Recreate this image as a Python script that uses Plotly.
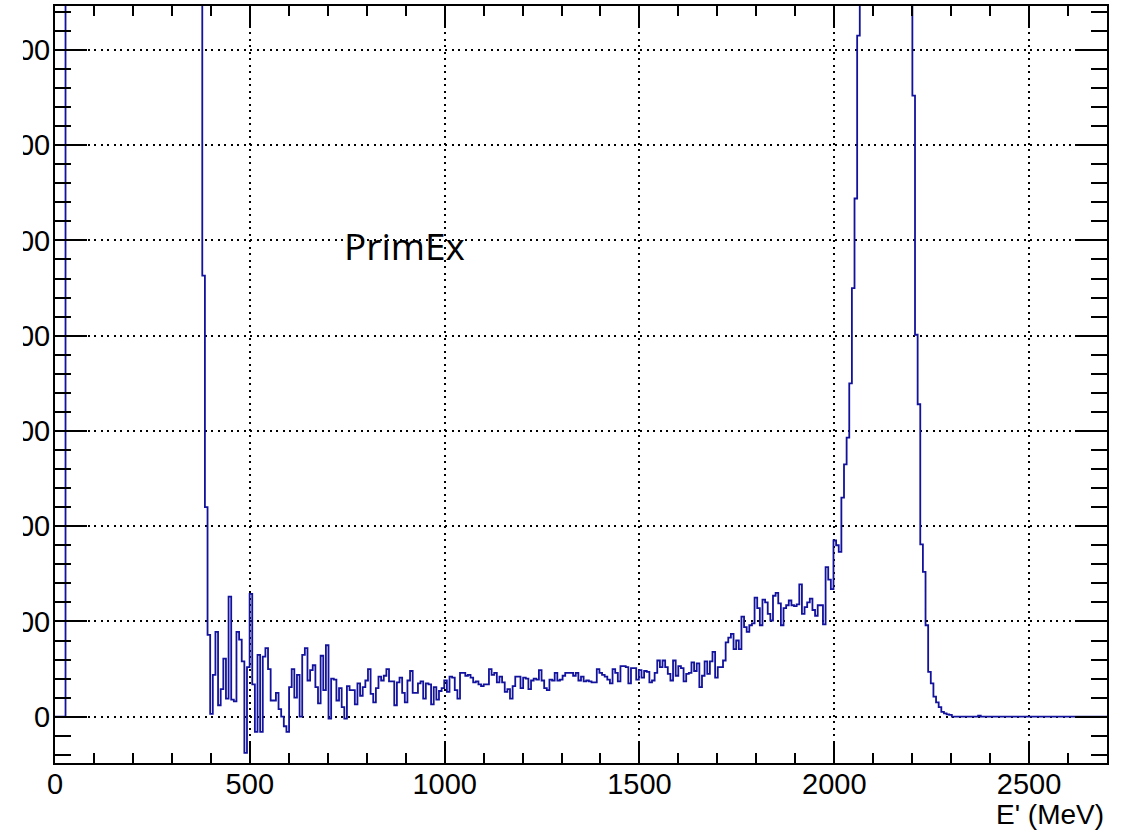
import numpy as np
import plotly.graph_objects as go

# ---- histogram definition: 400 bins from 0 to 2700 MeV ----
x_min = 0.0
x_max = 2700.0
n_bins = 400

# bin contents
counts_zero_start = [0, 0, 0, 0]
counts_clipped_low = [6000, 5800, 5600, 5400, 5200, 5000, 4800, 4600, 4400, 4200,
                      4000, 3800, 3650, 3500, 3350, 3200, 3050, 2900, 2800, 2700,
                      2600, 2500, 2400, 2300, 2200, 2100, 2000, 1950, 1900, 1850,
                      1800, 1750, 1700, 1650, 1600, 1550, 1500, 1450, 1400, 1350,
                      1300, 1250, 1200, 1150, 1100, 1050, 1000, 980, 960, 940,
                      920, 900]
counts_edge = [463, 220]
counts_noisy = [86, 3, 44, 89, 12, 29, 61, 19, 126, 18,
                16, 89, 81, 58, -38, 52, 129, 34, -16, 65,
                -16, 63, 72, 50, 17, 17, 25, 8, 0, -10,
                -16, 31, 50, 20, 44, 0, 65, 72, 38, 49,
                54, 31, 14, 64, 28, 75, -2, 40, 39, 17,
                30, 10, -2, 32, 28, 28, 13, 35, 22, 31,
                38, 50, 24, 15, 30, 42, 38, 43, 50, 37,
                37, 12, 36, 41, 25, 15, 38]
counts_flat = [48, 25, 25, 35, 37, 19, 35, 34, 13, 31,
               18, 27, 30, 38, 26, 42, 41, 28, 19, 46,
               46, 43, 44, 41, 36, 37, 34, 32, 34, 34,
               50, 44, 46, 36, 42, 36, 26, 29, 19, 32,
               42, 42, 30, 41, 40, 29, 38, 40, 39, 49,
               38, 30, 28, 39, 38, 46, 38, 39, 43, 46,
               46, 46, 43, 46, 38, 42, 37, 38, 37, 36,
               36, 50, 46, 44, 42, 39, 35, 50, 46, 37,
               53, 53, 52, 35, 51, 51, 39, 49]
counts_rise = [41, 48, 47, 36, 38, 46, 59, 52, 59, 52,
               45, 38, 59, 43, 53, 51, 37, 45, 46, 57,
               48, 56, 31, 43, 58, 45, 58, 68, 41, 52,
               52, 59, 78, 83, 87, 71, 80, 71, 105, 94,
               89, 96, 98, 125, 114, 96, 123, 120, 108, 101,
               127, 130, 119, 96, 114, 117, 122, 117, 116, 118,
               139, 108, 115, 120, 124, 112, 106, 117, 117, 97,
               157, 144, 134, 185, 180, 173, 230, 265, 293, 350,
               450, 544, 715]
counts_peak = [800, 900, 1000, 1100, 1200, 1250, 1300, 1350, 1380, 1400,
               1400, 1380, 1350, 1300, 1250, 1200, 1100, 1000, 900, 800]
counts_fall = [652, 401, 328, 181, 152, 96, 47, 35, 21, 15, 10, 5, 3.5, 2.5, 2]
counts_tail = [0, 0, 0, 0, 0, 0, 0, 0, 0, 0,
               1, 0, 0, 0, 0, 0, 0, 0, 0, 0,
               0, 0, 0, 0, 0, 0, 0, 0, 0, 0,
               0, 0, 0, 0, 0, 0, 0, 0, 0, 0,
               0, 0, 0, 0, 0, 0, 0, 0, 0, 0,
               0, 0, 0, 0, 0, 0, 0, 0, 0]

# axis / label texts
x_title = "E' (MeV)"
label_text = "PrimEx"
y_tick_values = [0, 100, 200, 300, 400, 500, 600, 700]
x_tick_values = [0, 500, 1000, 1500, 2000, 2500]

counts = np.array(counts_zero_start + counts_clipped_low + counts_edge + counts_noisy
                  + counts_flat + counts_rise + counts_peak + counts_fall + counts_tail,
                  dtype=float)
edges = np.linspace(x_min, x_max, n_bins + 1)

# step outline (ROOT style): start at baseline, end at last bin value
xs = np.concatenate([[edges[0]], edges[:-1], [edges[-1]]])
ys = np.concatenate([[0.0], counts, [counts[-1]]])

line_color = "#12129c"
font_family = "Liberation Sans, Arial, Helvetica, sans-serif"

fig = go.Figure()
fig.add_trace(go.Scatter(x=xs, y=ys, mode="lines", line=dict(shape="hv", color=line_color, width=1.8),
                         hoverinfo="skip", showlegend=False))

fig.update_layout(
    width=1132, height=832,
    margin=dict(l=55, r=25, t=6, b=69),
    paper_bgcolor="white", plot_bgcolor="white",
    showlegend=False,
    font=dict(family=font_family, color="black"),
)

fig.update_xaxes(
    range=[x_min, x_max], autorange=False,
    tickmode="array", tickvals=x_tick_values,
    ticks="inside", ticklen=20, tickwidth=1.5, tickcolor="black",
    minor=dict(dtick=100, tick0=0, ticks="inside", ticklen=10, tickwidth=1.5, tickcolor="black", showgrid=False),
    showline=True, linecolor="black", linewidth=2, mirror="allticks",
    showgrid=True, gridcolor="black", gridwidth=1.5, griddash="2px,4.5px",
    zeroline=False,
    tickfont=dict(size=29, family=font_family, color="black"),
    ticklabelstandoff=-6,
    automargin=False,
)
fig.update_yaxes(
    range=[-48.6, 746.1], autorange=False,
    tickmode="array", tickvals=y_tick_values,
    ticks="inside", ticklen=32, tickwidth=1.5, tickcolor="black",
    minor=dict(dtick=20, tick0=0, ticks="inside", ticklen=16, tickwidth=1.5, tickcolor="black", showgrid=False),
    showline=True, linecolor="black", linewidth=2, mirror="allticks",
    showgrid=True, gridcolor="black", gridwidth=1.5, griddash="2px,4.5px",
    zeroline=False,
    tickfont=dict(size=29, family=font_family, color="black"),
    ticklabelstandoff=-3,
    automargin=False,
)

# white cover for the cut-off part of the y labels (as in the reference crop)
fig.add_shape(type="rect", xref="paper", yref="paper", x0=-0.06, x1=-0.0304, y0=-0.1, y1=1.02,
              fillcolor="white", line=dict(width=0), layer="above")

fig.add_annotation(x=896, y=495, xref="x", yref="y", text=label_text, showarrow=False,
                   font=dict(family="Open Sans, Noto Sans, sans-serif", size=37, color="black"),
                   xanchor="center", yanchor="middle")
fig.add_annotation(x=1.0, y=-0.068, xref="paper", yref="paper", text=x_title, showarrow=False,
                   font=dict(family=font_family, size=28, color="black"),
                   xanchor="right", yanchor="middle", xshift=-1)

fig.write_html("out.html")
